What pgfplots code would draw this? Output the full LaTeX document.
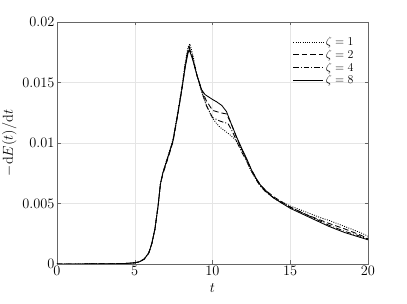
\documentclass[border=0pt]{standalone}
\usepackage{pgfplots}
\pgfplotsset{compat=1.18}
\begin{document}
\begin{tikzpicture}[x=1pt,y=1pt]
\useasboundingbox (-57,-40) rectangle (350,264);
\begin{axis}[
    scale only axis,
    width=311pt, height=242pt,
    xmin=0, xmax=20, ymin=0, ymax=0.02,
    xtick={0,5,10,15,20},
    ytick={0,0.005,0.01,0.015,0.02},
    yticklabels={$0$,$0.005$,$0.01$,$0.015$,$0.02$},
    scaled y ticks=false,
    tick align=inside,
    major tick length=3.5pt,
    axis line style={black!60, line width=0.5pt},
    major tick style={black!60},
    grid=major,
    major grid style={black!10, line width=0.5pt},
    tick label style={font=\fontsize{14}{16}\selectfont},
    label style={font=\fontsize{15}{17}\selectfont},
    xticklabel style={yshift=1pt},
    yticklabel style={xshift=1pt},
    xlabel={$t$},
    ylabel={$-\mathrm{d}E(t)/\mathrm{d}t$},
    xlabel style={yshift=-1pt},
    ylabel style={yshift=-1pt},
    legend style={at={(0.97,0.955)}, anchor=north east, draw=none, fill=none,
        font=\fontsize{13}{15}\selectfont, row sep=-1pt},
    legend cell align=left,
    legend image code/.code={\draw[#1] (0pt,0pt) -- (30pt,0pt);},
    every axis plot/.append style={line width=0.85pt, black},
]
% zeta = 1
\addplot[dash pattern=on 0.9pt off 1.4pt] coordinates {
(0,0) (3,0.00001) (4,0.00003) (4.5,0.00005) (5,0.0001) (5.3,0.00018) (5.6,0.0004)
(5.9,0.0009) (6.1,0.0017) (6.3,0.0029) (6.5,0.0048) (6.65,0.0066) (6.8,0.0075)
(7.0,0.0084) (7.2,0.0092) (7.46,0.0103) (7.75,0.0124) (8.04,0.0147) (8.25,0.0167)
(8.42,0.0179) (8.55,0.0182) (8.75,0.0172) (9.0,0.0156) (9.3,0.0142) (9.6,0.0132)
(9.94,0.0122) (10.2,0.0117) (10.48,0.0113) (10.8,0.0110) (11.1,0.0107) (11.45,0.0103)
(11.77,0.0097) (12.1,0.0088) (12.4,0.0079) (12.7,0.0072) (13.0,0.0066) (13.4,0.0060)
(13.7,0.0057) (14.0,0.0054) (14.5,0.0051) (15.0,0.0048) (16.0,0.0043) (17.0,0.0038)
(17.5,0.0036) (18.5,0.0031) (19.5,0.0026) (20,0.0023)};
\addlegendentry{$\zeta=1$}
% zeta = 2
\addplot[dash pattern=on 5.5pt off 3pt] coordinates {
(0,0) (3,0.00001) (4,0.00003) (4.5,0.00005) (5,0.0001) (5.3,0.00018) (5.6,0.0004)
(5.9,0.0009) (6.1,0.0017) (6.3,0.0029) (6.5,0.0048) (6.65,0.0066) (6.8,0.0074)
(7.0,0.0082) (7.2,0.0090) (7.46,0.0101) (7.75,0.0122) (8.04,0.0145) (8.25,0.0164)
(8.42,0.0176) (8.5,0.0179) (8.7,0.0171) (9.0,0.0156) (9.3,0.0144) (9.6,0.0135)
(10.0,0.0127) (10.5,0.0125) (10.9,0.0124) (11.2,0.0116) (11.5,0.0106) (11.8,0.0097)
(12.2,0.0086) (12.5,0.0078) (12.84,0.0070) (13.1,0.0065) (13.4,0.0061) (13.7,0.0058)
(14.0,0.0055) (14.5,0.0051) (15.0,0.0047) (16.0,0.0041) (17.0,0.0036) (17.5,0.00335)
(18.5,0.0029) (19.5,0.0024) (20,0.0021)};
\addlegendentry{$\zeta=2$}
% zeta = 4
\addplot[dash pattern=on 5.5pt off 2pt on 1pt off 2pt] coordinates {
(0,0) (3,0.00001) (4,0.00003) (4.5,0.00005) (5,0.0001) (5.3,0.00018) (5.6,0.0004)
(5.9,0.0009) (6.1,0.0017) (6.3,0.0029) (6.5,0.0048) (6.65,0.0066) (6.8,0.0075)
(7.0,0.0083) (7.2,0.0091) (7.46,0.0102) (7.75,0.0123) (8.04,0.0146) (8.25,0.0165)
(8.42,0.0177) (8.5,0.0180) (8.7,0.0172) (9.0,0.0156) (9.3,0.0143) (9.6,0.0131)
(10.0,0.0121) (10.5,0.0118) (11.0,0.0116) (11.3,0.0109) (11.6,0.0100) (11.9,0.0092)
(12.2,0.0085) (12.5,0.0077) (12.84,0.0069) (13.1,0.0064) (13.4,0.0060) (13.7,0.0057)
(14.0,0.0054) (14.5,0.0050) (15.0,0.0047) (16.0,0.0041) (17.0,0.0035) (17.5,0.0032)
(18.5,0.0027) (19.5,0.0023) (20,0.00205)};
\addlegendentry{$\zeta=4$}
% zeta = 8
\addplot[solid] coordinates {
(0,0) (3,0.00001) (4,0.00003) (4.5,0.00005) (5,0.0001) (5.3,0.00018) (5.6,0.0004)
(5.9,0.0009) (6.1,0.0017) (6.3,0.0029) (6.5,0.0048) (6.65,0.0066) (6.8,0.0075)
(7.0,0.0083) (7.2,0.0091) (7.46,0.0102) (7.75,0.0123) (8.04,0.0145) (8.25,0.0163)
(8.42,0.0174) (8.5,0.0177) (8.7,0.0170) (9.0,0.0156) (9.3,0.0144) (9.52,0.0140)
(10.0,0.0136) (10.27,0.0134) (10.6,0.0131) (10.9,0.0126) (11.2,0.0116) (11.55,0.0105)
(11.9,0.0095) (12.2,0.0087) (12.5,0.0078) (12.84,0.0070) (13.1,0.0065) (13.4,0.0061)
(13.7,0.0057) (14.0,0.0054) (14.5,0.0050) (15.0,0.0046) (16.0,0.0040) (17.0,0.0034)
(17.5,0.0031) (18.5,0.0026) (19.5,0.0022) (20,0.0020)};
\addlegendentry{$\zeta=8$}
\end{axis}
\end{tikzpicture}
\end{document}
